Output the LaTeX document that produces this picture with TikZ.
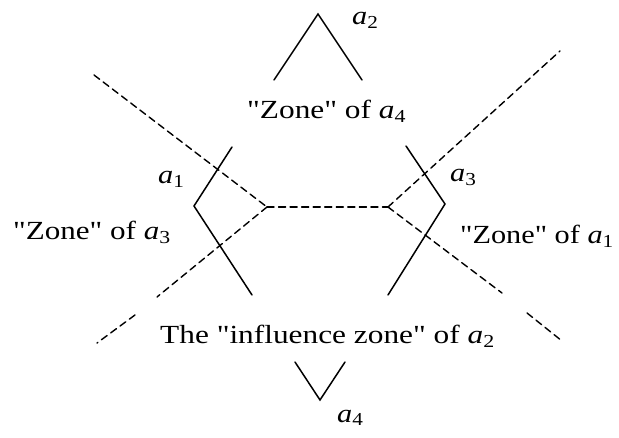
\documentclass[tikz,border=0pt]{standalone}
\usepackage{fontspec}
\setmainfont{Liberation Serif}
\usepackage{tkz-euclide}
\newcommand\wide[2][1.16]{\scalebox{#1}[1]{#2}}
\newcommand\av[1]{\textit{a}\textsubscript{#1}}
\newcommand\qq[1]{\textquotedbl#1\textquotedbl}
\tikzset{lbl/.style={font=\fontsize{26}{30}\selectfont,inner sep=0pt,anchor=base west},
  bord/.style={line width=1.4pt,dash pattern=on 7pt off 4.5pt}}

\begin{document}
\begin{tikzpicture}[scale=.35]
\useasboundingbox (0,0) rectangle (61.9,43.7);
\tkzSetUpLine[line width=1.5pt,color=black]

\tkzDefPoints{27.4/35.7/T1,31.8/42.3/T0,36.2/35.7/T2,
  23.2/29.0/L1,19.4/23.1/L0,25.2/14.2/L2,
  40.6/29.1/R1,44.5/23.3/R0,38.8/14.2/R2,
  29.5/7.5/B1,32.0/3.7/B0,34.5/7.5/B2}
\tkzDefPoints{26.7/23.0/V1,38.8/23.0/V2,9.4/36.2/D1,56.0/38.6/D2,
  15.7/14.0/G1,13.5/12.2/G2,9.7/9.4/E1,
  50.2/14.4/G3,52.7/12.4/G4,56.2/9.6/E2}
\tkzDefPoints{35.2/41.2/Pa2,15.8/25.3/Pa1,45.0/25.5/Pa3,33.7/1.5/Pa4,
  24.7/31.8/Z4,1.3/19.7/Z3,46.0/19.3/Z1,16.0/9.3/ZI}

% the four agents
\tkzDrawPolySeg(T1,T0,T2)
\tkzDrawPolySeg(L1,L0,L2)
\tkzDrawPolySeg(R1,R0,R2)
\tkzDrawPolySeg(B1,B0,B2)

% zone borders
\tkzDrawSegments[bord](D1,V1 V1,V2 V2,D2 V1,G1 G2,E1 V2,G3 G4,E2)

\tkzLabelPoint[lbl,name=la2](Pa2){\wide{\av{2}}}
\tkzLabelPoint[lbl,name=la1](Pa1){\wide{\av{1}}}
\tkzLabelPoint[lbl,name=la3](Pa3){\wide{\av{3}}}
\tkzLabelPoint[lbl,name=la4](Pa4){\wide{\av{4}}}

\tkzLabelPoint[lbl,name=zone4](Z4){\wide[1.2]{\qq{Zone} of \av{4}}}
\tkzLabelPoint[lbl,name=zone3](Z3){\wide[1.19]{\qq{Zone} of \av{3}}}
\tkzLabelPoint[lbl,name=zone1](Z1){\wide{\qq{Zone} of \av{1}}}
\tkzLabelPoint[lbl,name=infl](ZI){\wide[1.2]{The \qq{influence zone} of \av{2}}}

\end{tikzpicture}
\end{document}
